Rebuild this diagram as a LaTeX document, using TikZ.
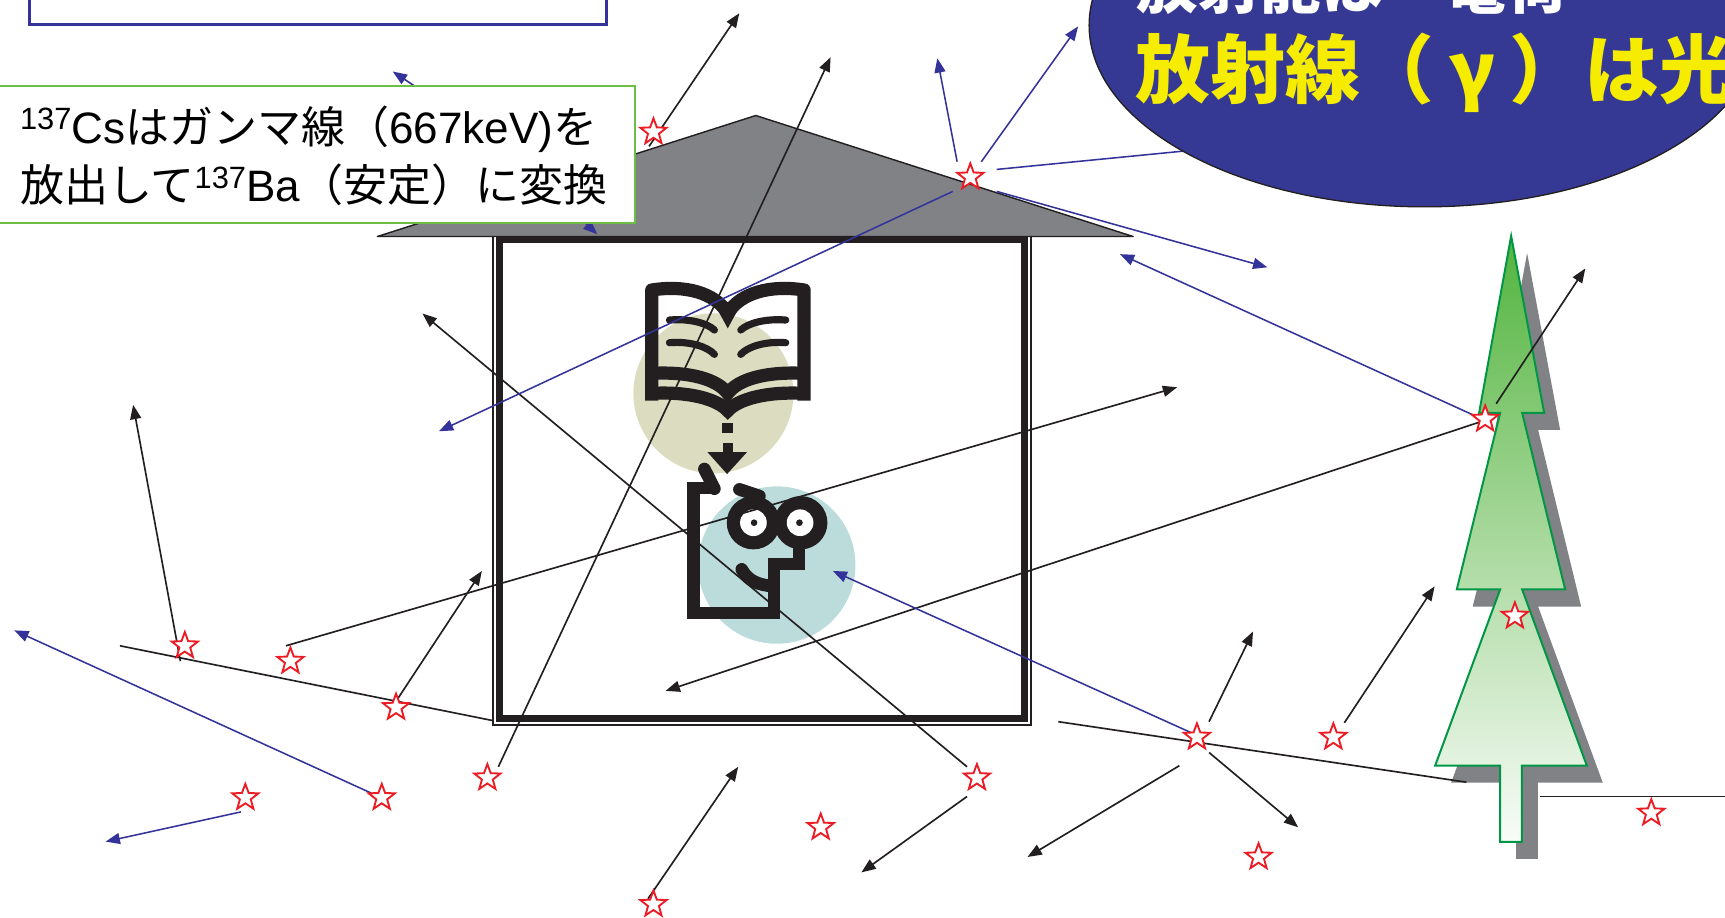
\documentclass[tikz,border=0pt]{standalone}
\usepackage{fontspec}
\setmainfont{Liberation Sans}
\newfontfamily\jp{Noto Sans CJK JP}
\usetikzlibrary{arrows.meta,shapes.geometric}

\definecolor{navy}{RGB}{51,51,153}
\definecolor{ellblue}{RGB}{54,57,148}
\definecolor{popyellow}{RGB}{246,236,0}
\definecolor{boxgreen}{RGB}{110,190,70}
\definecolor{roofgrey}{RGB}{129,130,134}
\definecolor{treeline}{RGB}{0,150,70}
\definecolor{treetop}{RGB}{82,180,62}
\definecolor{treemid}{RGB}{168,216,156}
\definecolor{treebot}{RGB}{248,252,248}
\definecolor{beige}{RGB}{220,220,192}
\definecolor{faceteal}{RGB}{188,220,220}
\definecolor{starred}{RGB}{237,28,36}
\definecolor{inkblack}{RGB}{35,31,32}

\newcommand{\isotope}[1]{\raisebox{12pt}{\fontsize{28}{28}\selectfont #1}}

\begin{document}
\begin{tikzpicture}[x=1pt,y=-1pt,
  ray/.style={line width=1.5pt, draw=inkblack},
  rayarrow/.style={ray, -{Triangle[length=13pt,width=10pt]}},
  bray/.style={line width=1.4pt, draw=navy},
  brayarrow/.style={bray, -{Triangle[length=13pt,width=10pt]}},
  decay/.style={star, star points=5, star point ratio=2.4, minimum size=25pt,
    inner sep=0pt, draw=starred, fill=white, line width=1.7pt},
  txt/.style={anchor=base west, inner sep=0pt}]

\useasboundingbox (0,0) rectangle (1568,834);
\clip (0,0) rectangle (1568,834);
\fill[white] (0,0) rectangle (1568,834);

% ---------- house: icon, walls, roof ----------
\begin{scope}[shift={(545.45,227.27)}, scale=0.30303]
  \fill[beige] (340,430) circle[radius=240];
  \fill[faceteal] (530,945) circle[radius=236];
  % open book
  \draw[inkblack, line width=12pt, line join=round]
    (155,452) -- (155,120) .. controls (255,104) and (345,128) .. (383,190)
    .. controls (421,128) and (511,104) .. (612,120) -- (612,452);
  \fill[inkblack] (345,165) -- (421,165) -- (383,235) -- cycle;
  \draw[inkblack, line width=6.5pt, line cap=round]
    (208,210) .. controls (270,205) and (322,220) .. (343,240)
    (208,278) .. controls (270,273) and (322,290) .. (343,313)
    (557,210) .. controls (495,205) and (443,220) .. (422,240)
    (557,278) .. controls (495,273) and (443,290) .. (422,313);
  \draw[inkblack, line width=12pt]
    (155,370) .. controls (270,364) and (352,388) .. (383,430)
    .. controls (414,388) and (496,364) .. (612,370);
  \draw[inkblack, line width=12pt]
    (155,430) .. controls (270,424) and (352,448) .. (383,482)
    .. controls (414,448) and (496,424) .. (612,430);
  % dotted arrow from book to reader
  \fill[inkblack] (367,518) rectangle (400,550);
  \fill[inkblack] (368,578) rectangle (398,612);
  \fill[inkblack] (322,606) -- (441,606) -- (381,672) -- cycle;
  % reader with glasses
  \draw[inkblack, line width=11.5pt, line join=miter]
    (352,714) -- (281,714) -- (281,1089) -- (522,1089) -- (522,942)
    -- (597,942) -- (597,870);
  \draw[inkblack, line width=11.5pt, line cap=round] (313,657) -- (343,716);
  \draw[inkblack, line width=11.5pt, line cap=round] (418,718) -- (478,738);
  \fill[inkblack] (460,818) circle[radius=80] (602,818) circle[radius=80];
  \fill[white] (460,818) circle[radius=40] (600,818) circle[radius=40];
  \fill[inkblack] (462,818) circle[radius=10] (598,818) circle[radius=10];
  \draw[inkblack, line width=11.5pt, line cap=round]
    (425,958) .. controls (445,995) and (478,1004) .. (515,1008);
\end{scope}

\draw[inkblack, line width=1.3pt] (448,212) rectangle (937,659);
\draw[inkblack, line width=6pt] (454,218) rectangle (931,653);
\draw[fill=roofgrey, draw=inkblack, line width=1.3pt, line join=round]
  (343,215) -- (687,105) -- (1030,215) -- cycle;

% ---------- tree with its shadow ----------
\fill[roofgrey, shift={(14.5,15.5)}]
  (1373.6,214.5) -- (1403.6,375.2) -- (1383.6,375.2) -- (1422.7,535.8)
  -- (1383.6,535.8) -- (1442.4,696) -- (1383.3,696) -- (1383.3,765.2)
  -- (1363.6,765.2) -- (1363.6,696) -- (1304.5,696) -- (1363.6,535.8)
  -- (1324.2,535.8) -- (1363.6,375.2) -- (1344.5,375.2) -- cycle;
\path[draw=treeline, line width=1.8pt, top color=treetop, bottom color=treebot,
      middle color=treemid]
  (1373.6,214.5) -- (1403.6,375.2) -- (1383.6,375.2) -- (1422.7,535.8)
  -- (1383.6,535.8) -- (1442.4,696) -- (1383.3,696) -- (1383.3,765.2)
  -- (1363.6,765.2) -- (1363.6,696) -- (1304.5,696) -- (1363.6,535.8)
  -- (1324.2,535.8) -- (1363.6,375.2) -- (1344.5,375.2) -- cycle;

% ---------- ray end points ----------
\coordinate (a0) at (590,133);   \coordinate (a1) at (672,12);
\coordinate (b0) at (453,697);   \coordinate (b1) at (755,52);
\coordinate (c0) at (164,601);   \coordinate (c1) at (121,368);
\coordinate (d0) at (109,587);   \coordinate (d1) at (448,655);
\coordinate (e0) at (260,587);   \coordinate (e1) at (1070,352);
\coordinate (f0) at (357,642);   \coordinate (f1) at (438,519);
\coordinate (g0) at (879,697);   \coordinate (g1) at (384,285);
\coordinate (h0) at (1347,383);  \coordinate (h1) at (605,628);
\coordinate (i0) at (1360,367);  \coordinate (i1) at (1441,244);
\coordinate (j0) at (1222,657);  \coordinate (j1) at (1304,533);
\coordinate (k0) at (962,656);   \coordinate (k1) at (1333,711);
\coordinate (l0) at (1400,724);  \coordinate (l1) at (1575,724);
\coordinate (m0) at (1099,656);  \coordinate (m1) at (1139,574);
\coordinate (m2) at (1099,684);  \coordinate (m3) at (1180,752);
\coordinate (m4) at (1072,696);  \coordinate (m5) at (934,779);
\coordinate (n0) at (879,724);   \coordinate (n1) at (783,793);
\coordinate (o0) at (589,817);   \coordinate (o1) at (671,697);
\coordinate (p0) at (906,154);   \coordinate (p1) at (1110,134);
\coordinate (q0) at (892,147);   \coordinate (q1) at (980,24);
\coordinate (r0) at (870,147);   \coordinate (r1) at (852,53);
\coordinate (s0) at (906,174);   \coordinate (s1) at (1152,243);
\coordinate (t0) at (866,174);   \coordinate (t1) at (399,392);
\coordinate (u0) at (1343,379);  \coordinate (u1) at (1018,231);
\coordinate (v0) at (1085,667);  \coordinate (v1) at (757,519);
\coordinate (w0) at (342,723);   \coordinate (w1) at (13,573);
\coordinate (x0) at (219,738);   \coordinate (x1) at (96,765);
\coordinate (y0) at (420,107);   \coordinate (y1) at (357,65);
\coordinate (z0) at (505,178);   \coordinate (z1) at (543,213);

% ---------- gamma rays ----------
\draw[ray] (d0) -- (d1);
\draw[ray] (k0) -- (k1);
\draw[ray] (l0) -- (l1);
\foreach \s in {a,b,c,e,f,g,h,i,j,n,o}
  \draw[rayarrow] (\s0) -- (\s1);
\draw[rayarrow] (m0) -- (m1);
\draw[rayarrow] (m2) -- (m3);
\draw[rayarrow] (m4) -- (m5);
\draw[bray] (p0) -- (p1);
\foreach \s in {q,r,s,t,u,v,w,x,y,z}
  \draw[brayarrow] (\s0) -- (\s1);

% ---------- decaying nuclei ----------
\node[decay] (st1)  at (594,120) {};
\node[decay] (st2)  at (882,161) {};
\node[decay] (st3)  at (168,587) {};
\node[decay] (st4)  at (264,601) {};
\node[decay] (st5)  at (360,643) {};
\node[decay] (st6)  at (223,725) {};
\node[decay] (st7)  at (347,725) {};
\node[decay] (st8)  at (443,707) {};
\node[decay] (st9)  at (888,707) {};
\node[decay] (st10) at (746,752) {};
\node[decay] (st11) at (594,822) {};
\node[decay] (st12) at (1088,670) {};
\node[decay] (st13) at (1212,670) {};
\node[decay] (st14) at (1144,779) {};
\node[decay] (st15) at (1350,381) {};
\node[decay] (st16) at (1377,560) {};
\node[decay] (st17) at (1501,739) {};

% ---------- boxes ----------
\node[draw=navy, line width=3pt, fill=white, minimum width=525pt,
      minimum height=60pt, anchor=south west] (topbox) at (25,24) {};
\node[draw=boxgreen, line width=2pt, fill=white, minimum width=580pt,
      minimum height=125pt, anchor=north west] (callout) at (-4,77) {};
\node[txt, font=\fontsize{40}{40}\selectfont] (cs1) at (18,130)
  {\isotope{137}Cs{\jp はガンマ線（}667keV){\jp を}};
\node[txt, font=\fontsize{40}{40}\selectfont] (cs2) at (18,183)
  {{\jp 放出して}\isotope{137}Ba{\jp （安定）に変換}};

% ---------- speech bubble ----------
\node[ellipse, draw=inkblack, fill=ellblue, line width=1.2pt, inner sep=0pt,
      minimum width=610pt, minimum height=330pt] (bubble) at (1295,23) {};
\node[txt, text=white, font=\jp\bfseries\fontsize{56}{56}\selectfont] (wl)
  at (1033,8) {放射能は　電荷};
\node[txt, text=popyellow, font=\jp\bfseries\fontsize{68}{68}\selectfont] (yl)
  at (1032,89) {放射線（\makebox[1em]{γ}）は光};

\end{tikzpicture}
\end{document}
